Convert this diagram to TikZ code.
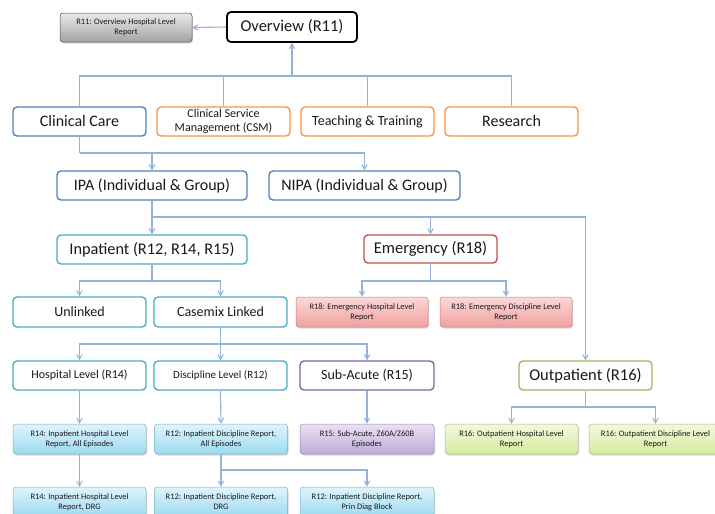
\documentclass[tikz,border=0pt]{standalone}
\usepackage{fontspec}
\setmainfont{Carlito}
\usepackage{tikz}
\usetikzlibrary{calc}
\usetikzlibrary{arrows}
\usetikzlibrary{shadows}

\definecolor{linkcol}{HTML}{95B3D7}
\definecolor{bluecol}{HTML}{4F81BD}
\definecolor{orangecol}{HTML}{F79646}
\definecolor{tealcol}{HTML}{4BACC6}
\definecolor{redcol}{HTML}{C0504D}
\definecolor{purplecol}{HTML}{8064A2}
\definecolor{greencol}{HTML}{9BBB59}
\definecolor{greyT}{HTML}{E9E9E9}
\definecolor{greyB}{HTML}{A3A3A3}
\definecolor{pinkT}{HTML}{FCD9D9}
\definecolor{pinkB}{HTML}{EFA09F}
\definecolor{skyT}{HTML}{DFF4FC}
\definecolor{skyB}{HTML}{9CDAF1}
\definecolor{lilacT}{HTML}{E9E1F2}
\definecolor{lilacB}{HTML}{BFAAD9}
\definecolor{limeT}{HTML}{F3F9DE}
\definecolor{limeB}{HTML}{D5EA9C}

\tikzset{
  box/.style={draw=#1, rounded corners=4pt, line width=1.4pt, fill=white,
    align=center, minimum width=133pt, minimum height=29pt, inner sep=1pt,
    text=black!90},
  wide/.style={minimum width=190pt},
  report/.style 2 args={draw=#2!80!black, line width=0.5pt, rounded corners=3pt,
    top color=#1, bottom color=#2, align=center, minimum width=133pt,
    minimum height=30pt, inner sep=1pt, text=black!90,
    font=\fontsize{8.4}{10}\selectfont,
    drop shadow={opacity=0.3, shadow xshift=1pt, shadow yshift=-1.5pt}},
  link/.style={draw=linkcol, line width=1.1pt},
  flow/.style={link, ->}
}

\begin{document}
\begin{tikzpicture}[x=1pt,y=-1pt,>=angle 60]
  % Boundary
  \path[use as bounding box] (0,0) rectangle (715,514);
  % Bus levels
  \coordinate (b1) at (0,76);
  \coordinate (b2) at (0,153);
  \coordinate (b3) at (0,217);
  \coordinate (b4) at (0,281);
  \coordinate (b5) at (0,344);
  \coordinate (b6) at (0,407);
  \coordinate (b7) at (0,470);
  % Overview
  \node[box=black, line width=1.8pt, minimum width=130pt, minimum height=30pt,
    font=\fontsize{16.5}{18}\selectfont] (over) at (292,27) {Overview (R11)};
  \node[report={greyT}{greyB}, draw=black!70, minimum width=132pt, minimum height=29pt]
    (rep11) at (126,27.5) {R11: Overview Hospital Level\\Report};
  % Domains
  \node[box=bluecol, font=\fontsize{16}{18}\selectfont] (care) at (79.5,121.5) {Clinical Care};
  \node[box=orangecol, font=\fontsize{12}{14}\selectfont] (csm) at (223.5,121.5)
    {Clinical Service\\Management (CSM)};
  \node[box=orangecol, font=\fontsize{14}{16}\selectfont] (teach) at (367.5,121.5)
    {Teaching \& Training};
  \node[box=orangecol, font=\fontsize{16}{18}\selectfont] (research) at (511.5,121.5)
    {Research};
  % Activity
  \node[box=bluecol, wide, font=\fontsize{16}{18}\selectfont] (ipa) at (152,185.5)
    {IPA (Individual \& Group)};
  \node[box=bluecol, wide, minimum width=191pt, font=\fontsize{16}{18}\selectfont]
    (nipa) at (364.5,185.5) {NIPA (Individual \& Group)};
  % Settings
  \node[box=tealcol, wide, font=\fontsize{16.3}{18}\selectfont] (inpat) at (152,249.5)
    {Inpatient (R12, R14, R15)};
  \node[box=redcol, minimum height=28pt, font=\fontsize{16.5}{18}\selectfont]
    (emerg) at (430.5,249) {Emergency (R18)};
  \node[box=tealcol, minimum height=30pt, font=\fontsize{14}{16}\selectfont]
    (unlink) at (79.5,312) {Unlinked};
  \node[box=tealcol, minimum height=30pt, font=\fontsize{14}{16}\selectfont]
    (casemix) at (220.5,312) {Casemix Linked};
  \node[report={pinkT}{pinkB}, minimum width=132pt] (rep18h) at (362,312)
    {R18: Emergency Hospital Level\\Report};
  \node[report={pinkT}{pinkB}, minimum width=132pt] (rep18d) at (506,312)
    {R18: Emergency Discipline Level\\Report};
  % Levels
  \node[box=tealcol, font=\fontsize{12}{14}\selectfont] (hosp) at (79.5,375.5)
    {Hospital Level (R14)};
  \node[box=tealcol, font=\fontsize{11}{13}\selectfont] (disc) at (220.5,375.5)
    {Discipline Level (R12)};
  \node[box=purplecol, minimum width=134pt, font=\fontsize{14}{16}\selectfont]
    (subac) at (367,375.5) {Sub-Acute (R15)};
  \node[box=greencol, font=\fontsize{16.5}{18}\selectfont] (outpat) at (585.5,375.5)
    {Outpatient (R16)};
  % Reports
  \node[report={skyT}{skyB}] (rep14a) at (79.5,439)
    {R14: Inpatient Hospital Level\\Report, All Episodes};
  \node[report={skyT}{skyB}] (rep12a) at (221,439)
    {R12: Inpatient Discipline Report,\\All Episodes};
  \node[report={lilacT}{lilacB}, minimum width=134pt] (rep15) at (367,439)
    {R15: Sub-Acute, Z60A/Z60B\\Episodes};
  \node[report={limeT}{limeB}] (rep16h) at (511.5,439)
    {R16: Outpatient Hospital Level\\Report};
  \node[report={limeT}{limeB}] (rep16d) at (655.5,439)
    {R16: Outpatient Discipline Level\\Report};
  \node[report={skyT}{skyB}] (rep14b) at (79.5,502)
    {R14: Inpatient Hospital Level\\Report, DRG};
  \node[report={skyT}{skyB}] (rep12b) at (221,502)
    {R12: Inpatient Discipline Report,\\DRG};
  \node[report={skyT}{skyB}, minimum width=134pt] (rep12c) at (367,502)
    {R12: Inpatient Discipline Report,\\Prin Diag Block};
  % Connectors
  \draw[flow] (over.west) -- (rep11.east);
  \draw[link] (care.north) |- (research.north |- b1) -- (research.north);
  \draw[link] (csm.north) -- (csm.north |- b1);
  \draw[link] (teach.north) -- (teach.north |- b1);
  \draw[flow] (over.south |- b1) -- (over.south);
  \draw[link] (care.south) -- (care.south |- b2);
  \foreach \n in {ipa,nipa}
    \draw[flow] (care.south |- b2) -| (\n.north);
  \draw[link] (ipa.south) -- (ipa.south |- b3);
  \foreach \n in {inpat,emerg,outpat}
    \draw[flow] (ipa.south |- b3) -| (\n.north);
  \draw[link] (inpat.south) -- (inpat.south |- b4);
  \foreach \n in {unlink,casemix}
    \draw[flow] (inpat.south |- b4) -| (\n.north);
  \draw[link] (emerg.south) -- (emerg.south |- b4);
  \foreach \n in {rep18h,rep18d}
    \draw[flow] (emerg.south |- b4) -| (\n.north);
  \draw[link] (casemix.south) -- (casemix.south |- b5);
  \foreach \n in {hosp,disc,subac}
    \draw[flow] (casemix.south |- b5) -| (\n.north);
  \draw[flow] (hosp.south) -- (rep14a.north);
  \draw[flow] (disc.south) -- (rep12a.north);
  \draw[flow] (subac.south) -- (rep15.north);
  \draw[link] (outpat.south) -- (outpat.south |- b6);
  \foreach \n in {rep16h,rep16d}
    \draw[flow] (outpat.south |- b6) -| (\n.north);
  \draw[flow] (rep14a.south) -- (rep14b.north);
  \draw[link] (rep12a.south) -- (rep12a.south |- b7);
  \foreach \n in {rep12b,rep12c}
    \draw[flow] (rep12a.south |- b7) -| (\n.north);
\end{tikzpicture}
\end{document}
